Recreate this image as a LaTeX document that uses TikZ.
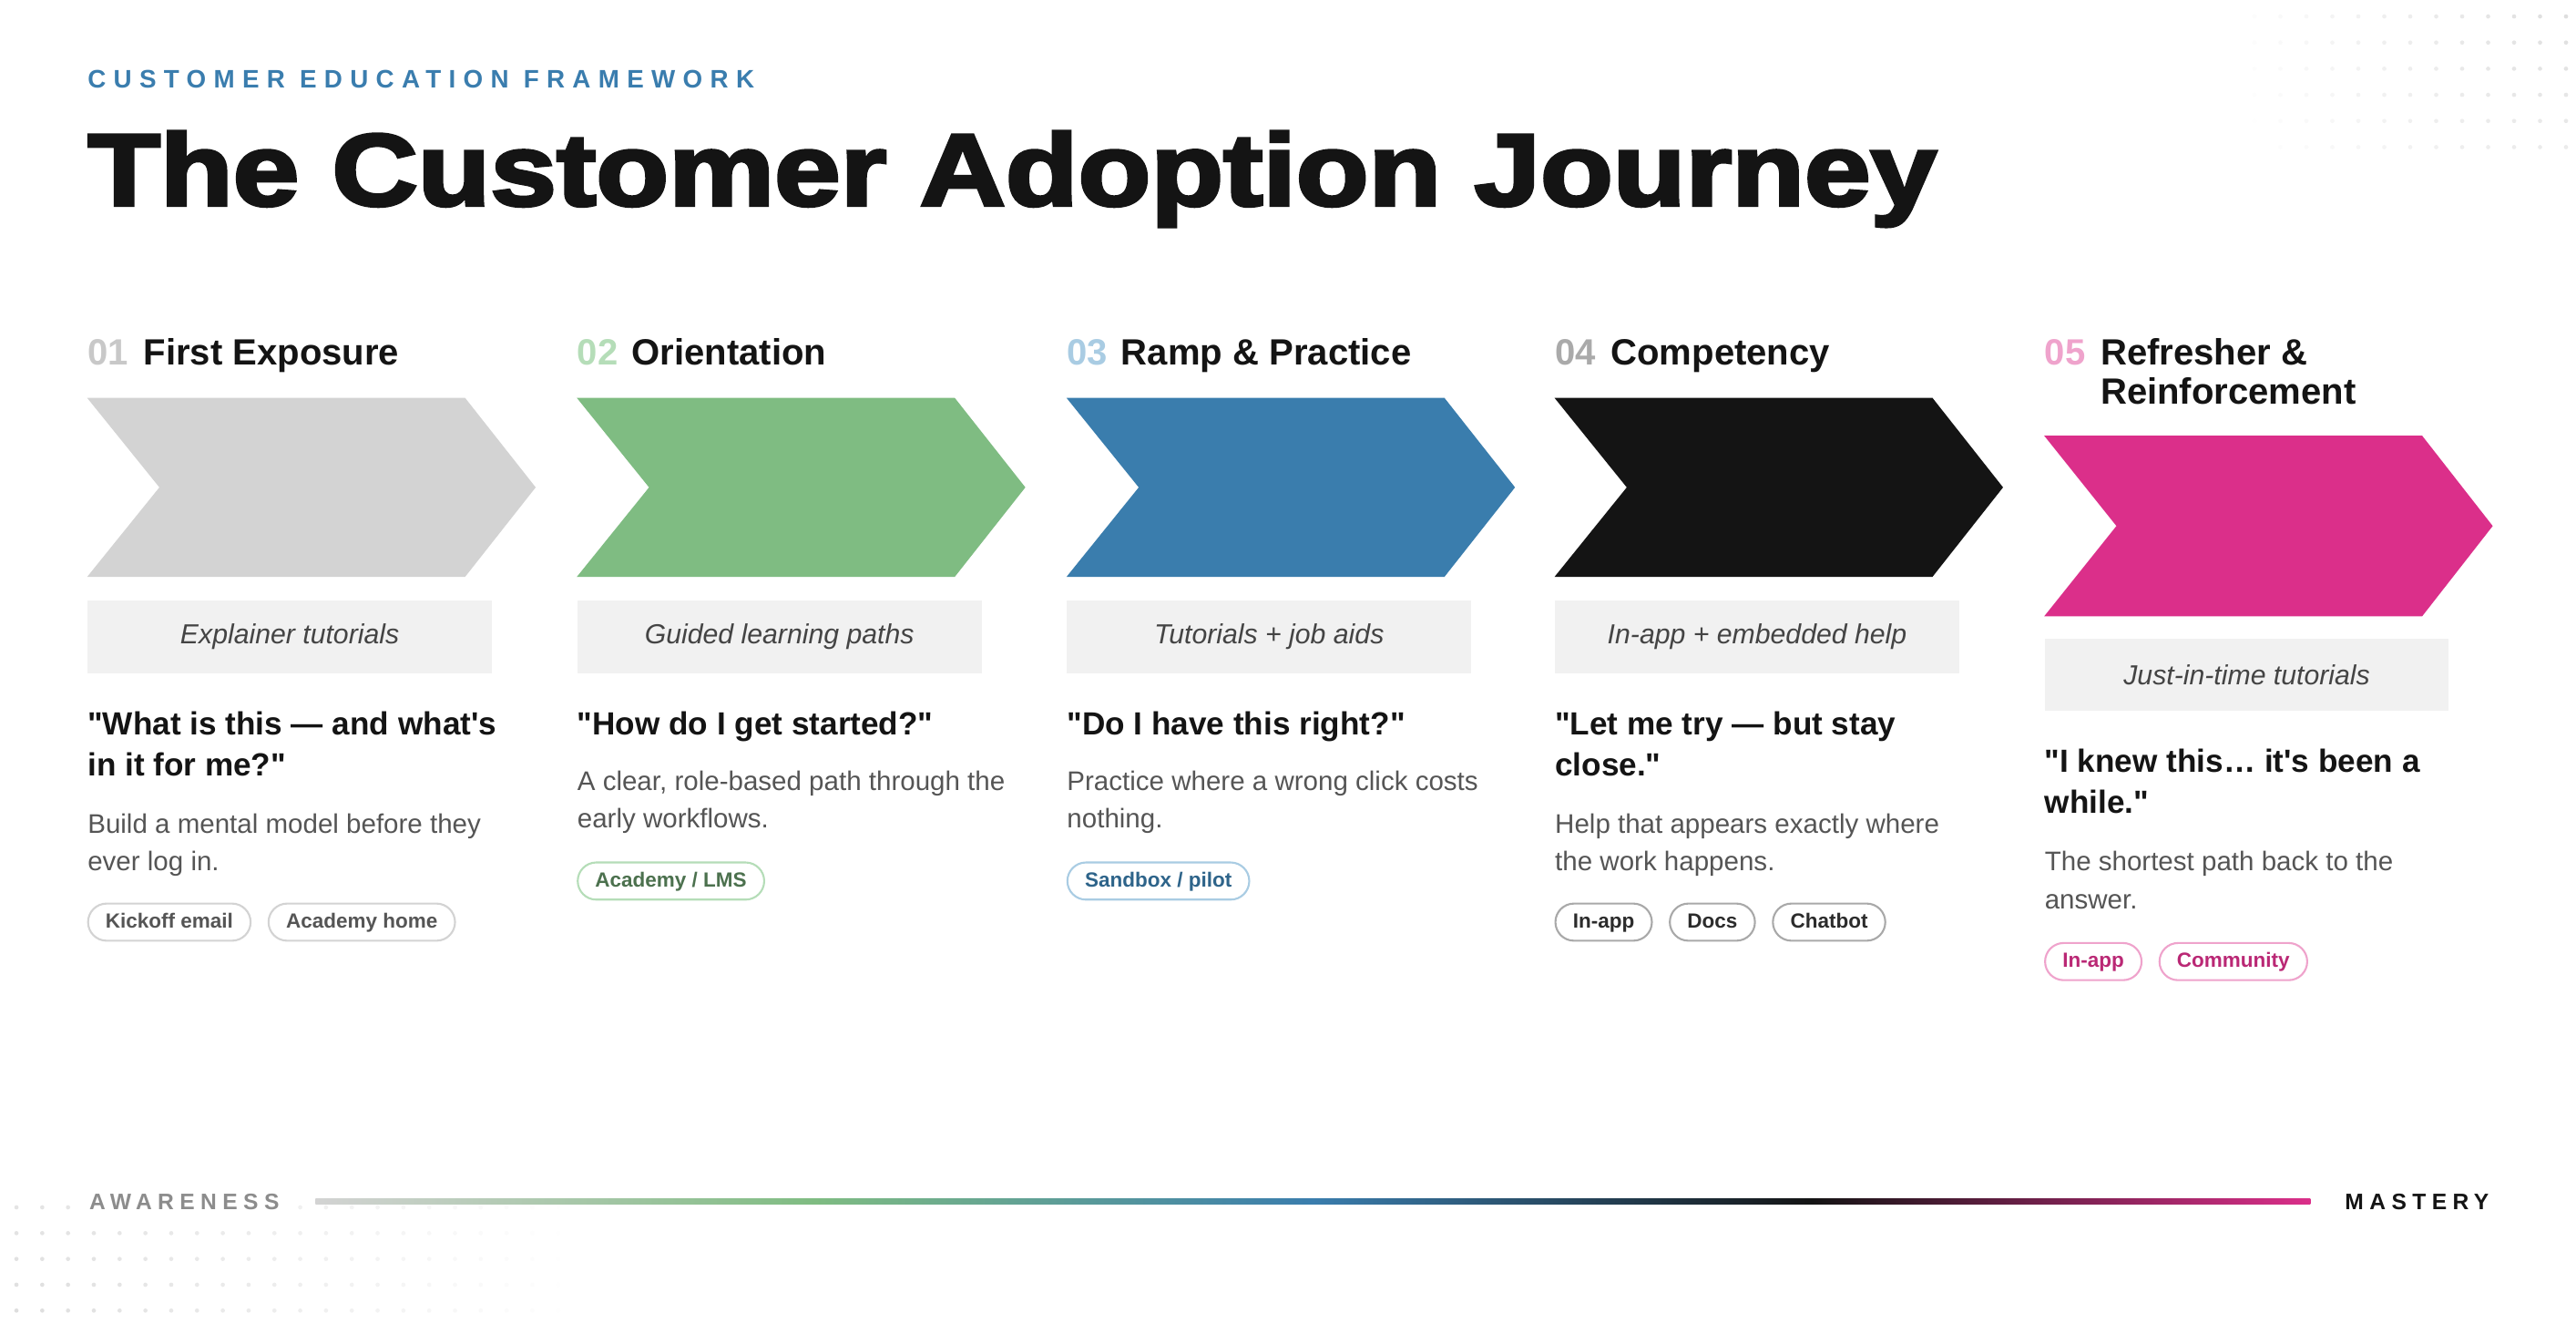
\documentclass[tikz,border=0pt]{standalone}
\usepackage{fontspec}
\usepackage{graphicx}
\setmainfont{Liberation Sans}[Ligatures=TeXOff]
\newfontfamily\titlefont{Liberation Sans}[Ligatures=TeXOff,BoldFeatures={FakeBold=3}]
\newfontfamily\spacedA{Liberation Sans}[Ligatures=TeXOff,LetterSpace=30]
\newfontfamily\spacedB{Liberation Sans}[Ligatures=TeXOff,LetterSpace=26]
\usetikzlibrary{shapes.misc,positioning,calc}
\definecolor{cGray}{HTML}{D3D3D3}
\definecolor{cGreen}{HTML}{7FBC82}
\definecolor{cBlue}{HTML}{3A7DAD}
\definecolor{cBlack}{HTML}{141414}
\definecolor{cPink}{HTML}{DB2F8A}
\definecolor{nGray}{HTML}{C8C8C8}
\definecolor{nGreen}{HTML}{B5DDB8}
\definecolor{nBlue}{HTML}{A9CCE3}
\definecolor{nBlack}{HTML}{AAAAAA}
\definecolor{nPink}{HTML}{EFA3CC}
\definecolor{descC}{HTML}{555555}
\definecolor{labC}{HTML}{444444}
\definecolor{boxC}{HTML}{F1F1F1}
\definecolor{dotC}{HTML}{DDDDDD}
\definecolor{kicker}{HTML}{3A7DAE}
\pgfdeclarehorizontalshading{journey}{100bp}{color(0bp)=(cGray); color(25bp)=(cGray); color(37.5bp)=(cGreen); color(50bp)=(cBlue); color(62.5bp)=(cBlack); color(75bp)=(cPink); color(100bp)=(cPink)}
\tikzset{
  head/.style={anchor=base west,inner sep=0,font=\fontsize{11.4}{13}\selectfont\bfseries,text=cBlack},
  num/.style={anchor=base west,inner sep=0,font=\fontsize{11.4}{13}\selectfont\bfseries},
  lab/.style={anchor=north west,fill=boxC,minimum width=126.2pt,minimum height=22.6pt,inner sep=0,font=\fontsize{8.6}{10}\selectfont\itshape,text=labC},
  quote/.style={anchor=north west,inner sep=0,align=left,font=\fontsize{10}{12.8}\selectfont\bfseries,text=cBlack},
  desc/.style={anchor=north west,inner sep=0,align=left,font=\fontsize{8.4}{11.8}\selectfont,text=descC},
  tag/.style={rounded rectangle,draw=#1,line width=0.6pt,minimum height=11.6pt,inner xsep=4.6pt,inner ysep=0pt,text height=4.8pt,text depth=1.3pt,font=\fontsize{6.4}{8}\selectfont\bfseries},
  chev/.style={fill=#1,draw=none},
}
\begin{document}
\begin{tikzpicture}[x=0.018038cm,y=-0.018038cm]
\useasboundingbox[fill=white] (0,0) rectangle (1567.7,811.5);
% dots
\foreach \i in {0,...,12}{\foreach \j in {0,...,5}{
  \pgfmathsetmacro\xx{1372+15.8*\i}\pgfmathsetmacro\yy{10+15.9*\j}
  \pgfmathsetmacro\op{max(0,1-veclen(1568-\xx,\yy)/215)}
  \fill[dotC,opacity=\op] (\xx,\yy) circle (1.3);}}
\foreach \i in {0,...,21}{\foreach \j in {0,...,4}{
  \pgfmathsetmacro\xx{10+15.7*\i}\pgfmathsetmacro\yy{734.5+15.7*\j}
  \pgfmathsetmacro\op{max(0,1-veclen(\xx,812-\yy)/350)}
  \fill[dotC,opacity=\op] (\xx,\yy) circle (1.3);}}
% header
\node[anchor=west,inner sep=0,text=kicker,font=\spacedA\fontsize{7.9}{9}\selectfont\bfseries] (kick) at (53,48) {CUSTOMER EDUCATION FRAMEWORK};
\node[anchor=base west,inner sep=0,text=cBlack,font=\titlefont\fontsize{32}{36}\selectfont\bfseries] (title) at (53,125) {\scalebox{1.16}[1]{The Customer Adoption Journey}};
% column 1
\node[num,text=nGray] (n1) at (53,222) {01};
\node[head] (h1) at (87,222) {First Exposure};
\fill[chev=cGray] (53,242) -- (283,242) -- (326,296.5) -- (283,351) -- (53,351) -- (97,296.5) -- cycle;
\node[lab] (l1) at (53,365) {Explainer tutorials};
\node[quote] (q1) at (53,432.5) {"What is this — and what's\\in it for me?"};
\node[desc] (d1) at (53,494.5) {Build a mental model before they\\ever log in.};
\node[tag=cGray,text=descC,anchor=west] (t1a) at (53,561) {Kickoff email};
\node[tag=cGray,text=descC,right=5pt of t1a] (t1b) {Academy home};
% column 2
\node[num,text=nGreen] (n2) at (351,222) {02};
\node[head] (h2) at (384,222) {Orientation};
\fill[chev=cGreen] (351,242) -- (581,242) -- (624,296.5) -- (581,351) -- (351,351) -- (395,296.5) -- cycle;
\node[lab] (l2) at (351,365) {Guided learning paths};
\node[quote] (q2) at (351,432.5) {"How do I get started?"};
\node[desc] (d2) at (351,468.5) {A clear, role-based path through the\\early workflows.};
\node[tag=nGreen,text=cGreen!60!black,anchor=west] (t2a) at (351,536) {Academy / LMS};
% column 3
\node[num,text=nBlue] (n3) at (649,222) {03};
\node[head] (h3) at (682,222) {Ramp \& Practice};
\fill[chev=cBlue] (649,242) -- (879,242) -- (922,296.5) -- (879,351) -- (649,351) -- (693,296.5) -- cycle;
\node[lab] (l3) at (649,365) {Tutorials + job aids};
\node[quote] (q3) at (649,432.5) {"Do I have this right?"};
\node[desc] (d3) at (649,468.5) {Practice where a wrong click costs\\nothing.};
\node[tag=nBlue,text=cBlue!80!black,anchor=west] (t3a) at (649,536) {Sandbox / pilot};
% column 4
\node[num,text=nBlack] (n4) at (946,222) {04};
\node[head] (h4) at (980,222) {Competency};
\fill[chev=cBlack] (946,242) -- (1176,242) -- (1219,296.5) -- (1176,351) -- (946,351) -- (990,296.5) -- cycle;
\node[lab] (l4) at (946,365) {In-app + embedded help};
\node[quote] (q4) at (946,432.5) {"Let me try — but stay\\close."};
\node[desc] (d4) at (946,494.5) {Help that appears exactly where\\the work happens.};
\node[tag=cGray!80!black,text=cBlack!90,anchor=west] (t4a) at (946,561) {In-app};
\node[tag=cGray!80!black,text=cBlack!90,right=5pt of t4a] (t4b) {Docs};
\node[tag=cGray!80!black,text=cBlack!90,right=5pt of t4b] (t4c) {Chatbot};
% column 5
\node[num,text=nPink] (n5) at (1244,222) {05};
\node[head] (h5) at (1278,222) {Refresher \&};
\node[head] (h5b) at (1278,246) {Reinforcement};
\fill[chev=cPink] (1244,265) -- (1474,265) -- (1517,320) -- (1474,375) -- (1244,375) -- (1288,320) -- cycle;
\node[lab] (l5) at (1244,388) {Just-in-time tutorials};
\node[quote] (q5) at (1244,455.5) {"I knew this\dots{} it's been a\\while."};
\node[desc] (d5) at (1244,517.5) {The shortest path back to the\\answer.};
\node[tag=nPink,text=cPink!85!black,anchor=west] (t5a) at (1244,585) {In-app};
\node[tag=nPink,text=cPink!85!black,right=5pt of t5a] (t5b) {Community};
% bottom scale
\coordinate (bs) at (192,731);
\coordinate (be) at (1406,731);
\shade[shading=journey] ($(bs)+(0,-1.6)$) rectangle ($(be)+(0,1.6)$);
\node[anchor=west,fill=white,inner xsep=1pt,inner ysep=2pt,text=black!45,font=\spacedB\fontsize{7}{8}\selectfont\bfseries] (aw) at (52,731) {AWARENESS};
\node[anchor=east,inner sep=0,text=cBlack,font=\spacedB\fontsize{7}{8}\selectfont\bfseries] (ma) at (1515,731) {MASTERY};
\end{tikzpicture}
\end{document}
